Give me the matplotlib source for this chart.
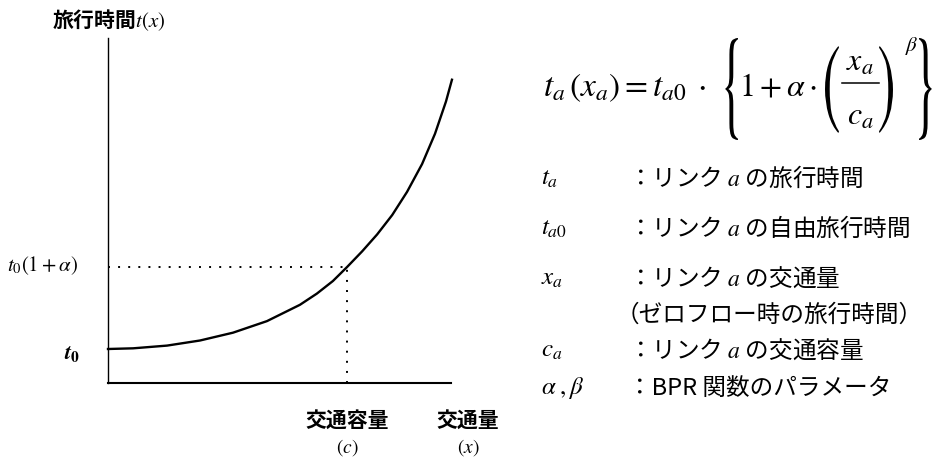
import matplotlib.pyplot as plt
from matplotlib.textpath import TextPath
from matplotlib.patches import PathPatch
from matplotlib.font_manager import FontProperties
from matplotlib.transforms import Affine2D, IdentityTransform
from matplotlib.lines import Line2D

plt.rcParams['font.family'] = ['Noto Sans CJK JP', 'DejaVu Sans']
plt.rcParams['mathtext.fontset'] = 'stix'

# traffic flow (capacity c = 1) and travel time (free-flow t0 = 1)
flow = [0.0, 0.105, 0.247, 0.385, 0.523, 0.665, 0.803, 0.874, 0.941, 1.0,
        1.063, 1.126, 1.189, 1.251, 1.314, 1.368, 1.414, 1.439]
time = [1.0, 1.02, 1.10, 1.25, 1.48, 1.82, 2.30, 2.63, 3.00, 3.41,
        3.87, 4.37, 4.94, 5.62, 6.44, 7.33, 8.28, 8.92]
t0 = 1.0
alpha = 2.41
capacity = 1.0

legend_symbols = [r'$t_a$', r'$t_{a0}$', r'$x_a$', '', r'$c_a$', r'$\alpha\;,\beta$']
legend_texts = ['：リンク $a$ の旅行時間',
                '：リンク $a$ の自由旅行時間',
                '：リンク $a$ の交通量',
                '（ゼロフロー時の旅行時間）',
                '：リンク $a$ の交通容量',
                '：BPR 関数のパラメータ']

W, H = 936, 457
fig = plt.figure(figsize=(W / 100, H / 100), dpi=100)


def px(x, y):
    return x / W, 1 - y / H


def tall_glyph(ch, x_left, y_top, y_bottom, width):
    # a serif delimiter stretched to the given pixel box
    path = TextPath((0, 0), ch, size=40, prop=FontProperties(family='STIXGeneral'))
    ext = path.get_extents()
    tr = (Affine2D().translate(-ext.x0, -ext.y0)
          .scale(width / ext.width, (y_bottom - y_top) / ext.height)
          .translate(x_left, H - y_bottom))
    fig.add_artist(PathPatch(tr.transform_path(path), facecolor='black', lw=0,
                             transform=IdentityTransform()))


ax = fig.add_axes([108 / W, 1 - 383 / H, (451 - 108) / W, (383 - 38) / H])
ax.set_xlim(0, 1.435)
ax.set_ylim(0, (383 - 38) / 34)
for side in ['top', 'right']:
    ax.spines[side].set_visible(False)
ax.spines['left'].set_linewidth(1.0)
ax.spines['bottom'].set_linewidth(1.5)
ax.set_xticks([])
ax.set_yticks([])

ax.plot(flow, time, color='black', lw=1.7, clip_on=False, solid_joinstyle='round')
t_cap = t0 * (1 + alpha)
ax.plot([0, capacity], [t_cap, t_cap], color='black', lw=1.4, ls=(0, (1, 4.2)))
ax.plot([capacity, capacity], [0, t_cap], color='black', lw=1.4, ls=(0, (1, 4.2)))

# axis labels
fig.text(*px(52, 20), '旅行時間$t(x)$', fontsize=15, fontweight='bold',
         ha='left', va='center')
fig.text(*px(78, 266), r'$t_0(1+\alpha)$', fontsize=15, ha='right', va='center')
fig.text(*px(80, 353), r'$\mathbfit{t}_\mathbf{0}$', fontsize=16, ha='right', va='center')
fig.text(*px(347, 420), '交通容量', fontsize=15, fontweight='bold', ha='center', va='center')
fig.text(*px(347, 447), r'$(c)$', fontsize=14, ha='center', va='center')
fig.text(*px(468, 420), '交通量', fontsize=15, fontweight='bold', ha='center', va='center')
fig.text(*px(468, 447), r'$(x)$', fontsize=14, ha='center', va='center')

# BPR function: t_a(x_a) = t_a0 . {1 + alpha . (x_a / c_a)^beta}
fig.text(*px(543, 96), r'$t_a\,\left(x_a\right)=t_{a0}\;\cdot$',
         fontsize=24, ha='left', va='baseline')
tall_glyph('{', 725, 38, 140, 13)
fig.text(*px(739, 96), r'$1+\alpha\cdot$', fontsize=23, ha='left', va='baseline')
tall_glyph('(', 825, 46, 133, 14)
fig.text(*px(860, 71), r'$x_a$', fontsize=23, ha='center', va='baseline')
fig.add_artist(Line2D([842 / W, 879 / W], [1 - 83 / H, 1 - 83 / H],
                      color='black', lw=1.1))
fig.text(*px(860, 125), r'$c_a$', fontsize=23, ha='center', va='baseline')
tall_glyph(')', 879, 46, 133, 14)
fig.text(*px(912, 46), r'$\beta$', fontsize=15, ha='center', va='center')
tall_glyph('}', 919, 38, 140, 13)

rows_y = [178, 228, 278, 315, 350, 388]
for sym, txt, y in zip(legend_symbols, legend_texts, rows_y):
    if sym:
        fig.text(*px(541, y), sym, fontsize=18, ha='left', va='center')
        fig.text(*px(628, y), txt, fontsize=17, ha='left', va='center')
    else:
        fig.text(*px(616, y), txt, fontsize=17, ha='left', va='center')

fig.savefig('out.png', dpi=100)
